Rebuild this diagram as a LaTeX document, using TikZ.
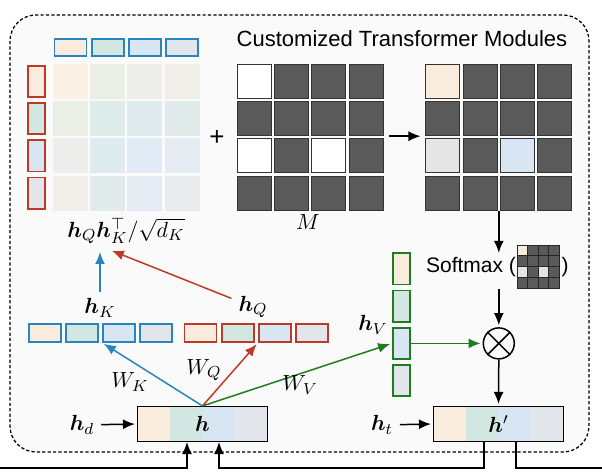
\documentclass[tikz,border=0pt]{standalone}
\usepackage{amsmath,amssymb,bm}
\usepackage{fontspec}
\newfontfamily\sansfont{Liberation Sans}
\usepackage{tikz}
\usetikzlibrary{positioning,arrows.meta,calc}

\definecolor{cA}{RGB}{249,236,220}
\definecolor{cB}{RGB}{211,231,226}
\definecolor{cC}{RGB}{216,230,243}
\definecolor{cD}{RGB}{226,230,234}
\definecolor{kblue}{RGB}{42,132,190}
\definecolor{qred}{RGB}{190,58,40}
\definecolor{vgreen}{RGB}{30,125,30}
\definecolor{maskdark}{RGB}{90,90,90}
\definecolor{panelbg}{RGB}{250,250,250}
\colorlet{open11}{cA}
\colorlet{open31}{black!10}
\colorlet{open33}{cC}

\tikzset{line/.style={draw, -{Latex[length=6pt,width=5pt]}, line width=0.75pt, shorten >=1pt}}
\tikzset{
  panel/.style={draw, dash pattern=on 1.6pt off 1.1pt, line width=0.65pt, rounded corners=13pt, fill=panelbg},
  rowcell/.style={draw, line width=0.9pt, inner sep=0pt, minimum width=16pt, minimum height=8.8pt},
  colcell/.style={draw, line width=0.9pt, inner sep=0pt, minimum width=8.6pt, minimum height=15.6pt},
  fadecell/.style={inner sep=0pt, minimum size=17.5pt},
  maskcell/.style={draw=black!80, line width=0.5pt, inner sep=0pt, minimum size=17pt},
  bandbox/.style={draw, line width=0.75pt, inner sep=0pt, minimum width=64.8pt, minimum height=17.3pt,
    path picture={\foreach \c/\a/\b in {cA/0/0.25,cB/0.25/0.5,cC/0.5/0.75,cD/0.75/1}
      \fill[\c] ($(path picture bounding box.south west)!\a!(path picture bounding box.south east)$)
        rectangle ($(path picture bounding box.north west)!\b!(path picture bounding box.north east)$);}},
  sanslabel/.style={font=\sansfont\fontsize{11}{13}\selectfont}
}

\begin{document}
\begin{tikzpicture}[x=0.5pt,y=-0.5pt,font=\fontsize{11}{13}\selectfont]
\useasboundingbox (0,0) rectangle (602,475);
\draw[panel] (10,15) rectangle (589,452);
\node[sanslabel] (title) at (402,39) {Customized Transformer Modules};

% attention scores
\foreach \c [count=\j] in {cA,cB,cC,cD}{
  \node[rowcell, draw=kblue, fill=\c] (k\j) at ({70.5+37.2*(\j-1)},47.5) {};
  \node[colcell, draw=qred, fill=\c] (q\j) at (36.5,{81.5+37.2*(\j-1)}) {};
}
\foreach \ci [count=\i] in {cA,cB,cC,cD}
  \foreach \cj [count=\j] in {cA,cB,cC,cD}
    \node[fadecell, fill=\ci!50!\cj!80!white] (s-\i-\j) at ({70.5+37.2*(\j-1)},{81.5+37.2*(\i-1)}) {};
\node (qk) at (126,231) {$\bm{h}_Q\bm{h}_K^{\top}/\sqrt{d_K}$};
\coordinate (qkin) at ([yshift=-9.5pt]qk.center);
\node[sanslabel, font=\sansfont\fontsize{13}{15}\selectfont] (plus) at (217,138) {+};

% mask M, masked scores and the small copy
\foreach \i in {1,...,4}
  \foreach \j in {1,...,4}{
    \pgfmathtruncatemacro\open{(\i==1 && \j==1) || (\i==3 && (\j==1 || \j==3))}
    \ifnum\open=1 \def\mf{white}\def\rf{open\i\j}\else\def\mf{maskdark}\def\rf{maskdark}\fi
    \node[maskcell, fill=\mf] (m-\i-\j) at ({254.5+37.2*(\j-1)},{81.5+37.2*(\i-1)}) {};
    \node[maskcell, fill=\rf] (r-\i-\j) at ({443+37.2*(\j-1)},{81.5+37.2*(\i-1)}) {};
    \filldraw[fill=\rf, draw=black!85, line width=0.4pt]
      ({517+10.5*(\j-1)},{245+10.75*(\i-1)}) rectangle +(10.5,10.75);
  }
\node (mlab) at (308,222) {$M$};
\draw[line, shorten <=2.5pt, shorten >=2.5pt] (m-2-4.south east) -- (r-2-1.south west);

% softmax and weighted sum
\coordinate (rout) at ($(r-4-2.south east)!0.5!(r-4-3.south west)$);
\node[sanslabel, font=\sansfont\fontsize{10.5}{12}\selectfont, inner sep=1pt] (sm) at (471,267) {Softmax (};
\node[sanslabel, font=\sansfont\fontsize{10.5}{12}\selectfont, inner sep=1pt] (smclose) at (565,267) {)};
\draw[line] (rout) -- (rout |- sm.north);

% value column
\foreach \c [count=\j] in {cA,cB,cC,cD}
  \node[colcell, draw=vgreen, fill=\c] (v\j) at (401.5,{269+37.2*(\j-1)}) {};
\node (hv) at (373,325) {$\bm{h}_V$};

\node[circle, draw, line width=0.75pt, minimum size=15.5pt, inner sep=0pt] (ot) at (rout |- v3) {};
\draw[line width=0.75pt] (ot.north west) -- (ot.south east) (ot.north east) -- (ot.south west);
\draw[line, shorten <=5pt] (rout |- sm.south) -- (ot.north);
\draw[line, vgreen] (v3.east) -- (ot.west);

% key and query vectors
\foreach \c [count=\j] in {cA,cB,cC,cD}{
  \node[rowcell, draw=kblue, fill=\c] (kv\j) at ({45+37*(\j-1)},333) {};
  \node[rowcell, draw=qred, fill=\c] (qv\j) at ({200.5+37.2*(\j-1)},333) {};
}
\node (hk) at (100,308) {$\bm{h}_K$};
\node (hq) at (253,307) {$\bm{h}_Q$};
\draw[line, kblue] (hk) -- (hk |- qkin);
\draw[line, qred] (hq) -- ([xshift=-8pt]qkin);

% input and output states
\node[bandbox] (h) at (202.5,424) {$\bm{h}$};
\node[bandbox] (hp) at (498.5,424) {$\bm{h}'$};
\node (hd) at (82,425) {$\bm{h}_d$};
\node (ht) at (382,425) {$\bm{h}_t$};
\draw[line] (hd) -- (h.west);
\draw[line] (ht) -- (hp.west);
\draw[line] (ot.south) -- (hp.north);

\draw[line, kblue] (h.north) -- (kv3.south west);
\draw[line, qred] (h.north) -- (qv3.south west);
\draw[line, vgreen] (h.north) -- (v3.west);
\node (wk) at (130,382) {$W_K$};
\node (wq) at (204,370) {$W_Q$};
\node (wv) at (300,385) {$W_V$};

% recurrence
\draw[line, shorten >=0pt] (0,468) -| ([xshift=-7.75pt]h.south);
\draw[line, shorten >=0pt] ([xshift=-7.25pt]hp.south) -- ++(0,26) -| ([xshift=8.25pt]h.south);
\draw[line width=0.75pt] ([xshift=8.75pt]hp.south) |- (602,468);
\end{tikzpicture}
\end{document}
